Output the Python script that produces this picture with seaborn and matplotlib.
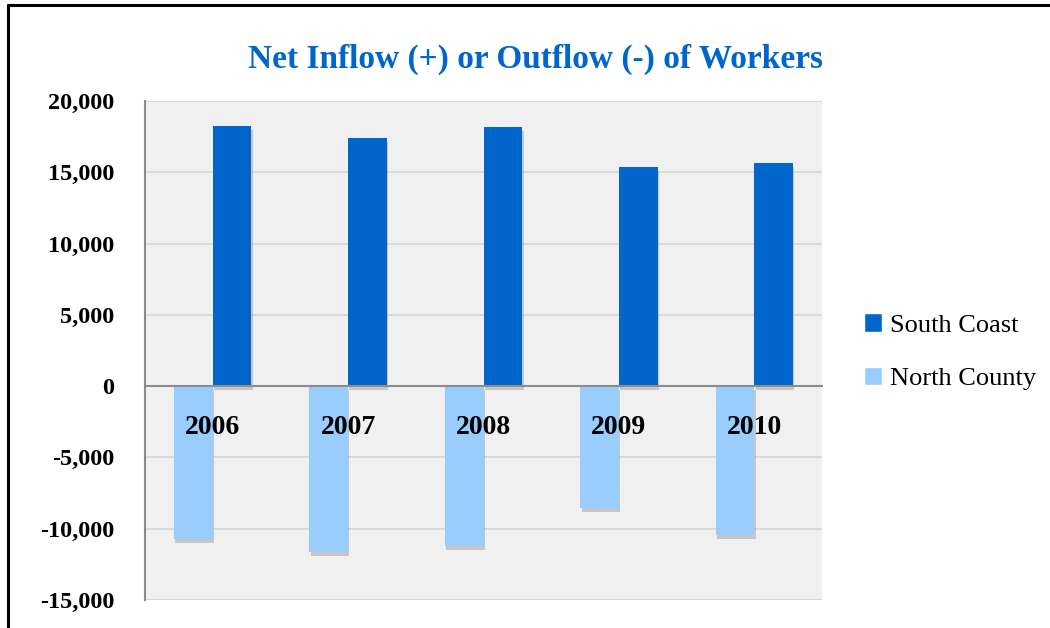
import pandas as pd
import numpy as np
import seaborn as sns
import matplotlib.pyplot as plt
import matplotlib.patheffects as pe
from matplotlib.patches import Patch
from matplotlib.lines import Line2D
from matplotlib.ticker import FuncFormatter, FixedLocator

years = ["2006", "2007", "2008", "2009", "2010"]
south_coast = [18230, 17390, 18160, 15360, 15640]
north_county = [-10730, -11640, -11220, -8560, -10450]
series = ["North County", "South Coast"]
colors = {"South Coast": "#0066CC", "North County": "#99CCFF"}

df = pd.DataFrame({
    "year": years * 2,
    "value": north_county + south_coast,
    "series": ["North County"] * 5 + ["South Coast"] * 5,
})

sns.set_style("white")
plt.rcParams['font.family'] = ['Liberation Serif', 'DejaVu Serif']
plt.rcParams['text.color'] = 'black'
plt.rcParams['ytick.color'] = 'black'

fig = plt.figure(figsize=(10.5, 6.28), dpi=100)
ax = fig.add_axes([0.138, 0.045, 0.645, 0.794])
ax.set_facecolor("#f0f0f0")

sns.barplot(data=df, x="year", y="value", hue="series", hue_order=series,
            palette=colors, width=0.57, saturation=1, ax=ax, legend=False, zorder=3)
for p in ax.patches:
    p.set_path_effects([pe.SimplePatchShadow(offset=(1, -3), shadow_rgbFace="#666666", alpha=0.3), pe.Normal()])
    p.set_edgecolor("none")

ax.set_ylim(-15000, 20000)
ax.set_xlim(-0.5, 4.5)
ax.yaxis.set_major_locator(FixedLocator(np.arange(-15000, 20001, 5000)))
ax.yaxis.set_major_formatter(FuncFormatter(lambda v, p: f"{int(v):,}"))
ax.tick_params(axis="y", length=0, labelsize=17.5, labelcolor="black", pad=22)
for lab in ax.get_yticklabels():
    lab.set_fontweight("bold")
ax.grid(axis="y", color="#d6d6d6", lw=1.2, zorder=0)
ax.set_axisbelow(True)

# x axis on zero line, ticks between categories
ax.spines["bottom"].set_position(("data", 0))
ax.spines["bottom"].set_color("#8c8c8c")
ax.spines["bottom"].set_linewidth(1.5)
ax.spines["bottom"].set_zorder(4)
ax.spines["left"].set_color("#8c8c8c")
ax.spines["left"].set_linewidth(1.5)
ax.spines["top"].set_visible(False)
ax.spines["right"].set_visible(False)
ax.set_xticks(range(len(years)))
ax.set_xticklabels([])
ax.tick_params(axis="x", which="major", length=0)
ax.xaxis.set_minor_locator(FixedLocator(np.arange(-0.5, 5, 1)))
ax.tick_params(axis="x", which="minor", length=7, width=1.5, color="#8c8c8c", direction="out")
ax.axhline(-15000, color="#d6d6d6", lw=1.5, zorder=1)

for i, yr in enumerate(years):
    ax.annotate(yr, xy=(i, 0), xytext=(0, -41), textcoords="offset pixels",
                ha="center", va="center", fontsize=20, fontweight="bold",
                color="black", zorder=6)

ax.set_xlabel("")
ax.set_ylabel("")

fig.suptitle("Net Inflow (+) or Outflow (-) of Workers", x=0.51, y=0.93,
             fontsize=24, fontweight="bold", color="#0066CC")

handles = [Patch(facecolor=colors["South Coast"], label="South Coast"),
           Patch(facecolor=colors["North County"], label="North County")]
fig.legend(handles=handles, loc="center left", bbox_to_anchor=(0.8, 0.44),
           frameon=False, fontsize=19, handlelength=0.7, handleheight=0.7,
           handletextpad=0.3, labelspacing=1.15)

# outer frame
fig.add_artist(Line2D([0.008, 0.008], [0, 0.992], color="black", lw=2.2, transform=fig.transFigure))
fig.add_artist(Line2D([0.008, 1.0], [0.992, 0.992], color="black", lw=2.2, transform=fig.transFigure))

fig.savefig("out.png", dpi=100)
